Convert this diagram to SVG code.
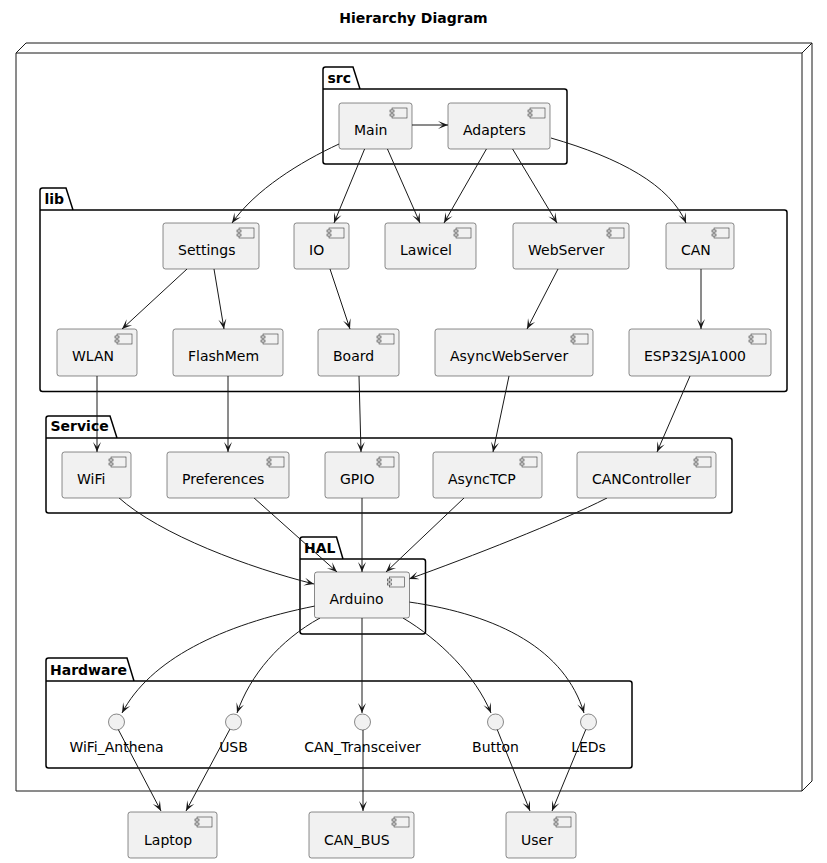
<svg xmlns="http://www.w3.org/2000/svg" xmlns:xlink="http://www.w3.org/1999/xlink" width="827" height="863" viewBox="0 0 827 863">
<style>
text{font-family:"DejaVu Sans","Liberation Sans",sans-serif;font-size:14px;fill:#000}
.title,.pk{font-weight:bold}
.box{fill:#F1F1F1;stroke:#181818;stroke-width:0.5}
.pkg{fill:none;stroke:#000;stroke-width:1.5}
.node{fill:none;stroke:#181818;stroke-width:1}
.e{fill:none;stroke:#181818;stroke-width:1;marker-end:url(#ah)}
.ic{fill:#F1F1F1;stroke:#181818;stroke-width:0.5}
</style>
<defs>
<marker id="ah" viewBox="-11 -5 12 10" refX="0" refY="0" markerWidth="12" markerHeight="10" orient="auto" markerUnits="userSpaceOnUse">
<path d="M0,0 L-10,-4 L-5,0 L-10,4 Z" fill="#181818"/>
</marker>
<g id="icon">
<rect class="ic" x="-20" y="5" width="15" height="10"/>
<rect class="ic" x="-22" y="7" width="4" height="2"/>
<rect class="ic" x="-22" y="11" width="4" height="2"/>
</g>
</defs>
<rect width="827" height="863" fill="#fff"/>
<text class="title" x="413.5" y="23" text-anchor="middle">Hierarchy Diagram</text>

<g id="node-outer">
<path class="node" d="M16,53 L26,43 L812,43 L812,781 L802,791 L16,791 Z M16,53 L802,53 L812,43 M802,53 L802,791"/>
</g>

<g id="pkg-src">
<path class="pkg" d="M323,89 L323,69.5 Q323,67 325.5,67 L353,67 L360,89 M323,89 L564.5,89 Q567,89 567,91.5 L567,161.5 Q567,164 564.5,164 L325.5,164 Q323,164 323,161.5 Z"/>
<text class="pk" x="327.5" y="82.5">src</text>
</g>
<g id="pkg-lib">
<path class="pkg" d="M40,210 L40,190.5 Q40,188 42.5,188 L66,188 L73,210 M40,210 L784.5,210 Q787,210 787,212.5 L787,389 Q787,391.5 784.5,391.5 L42.5,391.5 Q40,391.5 40,389 Z"/>
<text class="pk" x="44.5" y="204">lib</text>
</g>
<g id="pkg-service">
<path class="pkg" d="M46,438 L46,418.5 Q46,416 48.5,416 L110,416 L117,438 M46,438 L729.5,438 Q732,438 732,440.5 L732,510.5 Q732,513 729.5,513 L48.5,513 Q46,513 46,510.5 Z"/>
<text class="pk" x="50.5" y="431">Service</text>
</g>
<g id="pkg-hal">
<path class="pkg" d="M300,559 L300,539.5 Q300,537 302.5,537 L336.5,537 L343,559 M300,559 L423,559 Q425.5,559 425.5,561.5 L425.5,631.5 Q425.5,634 423,634 L302.5,634 Q300,634 300,631.5 Z"/>
<text class="pk" x="304" y="552.5">HAL</text>
</g>
<g id="pkg-hardware">
<path class="pkg" d="M46,681 L46,660.5 Q46,658 48.5,658 L127,658 L134,681 M46,681 L629.5,681 Q632,681 632,683.5 L632,765.5 Q632,768 629.5,768 L48.5,768 Q46,768 46,765.5 Z"/>
<text class="pk" x="50" y="674.5">Hardware</text>
</g>

<g id="connectors">
<path class="e" d="M412,125 L448,125"/>
<path class="e" d="M339,144 C300,162 255,190 232,223"/>
<path class="e" d="M365,148 L334,223"/>
<path class="e" d="M387,148 L420,223"/>
<path class="e" d="M487,148 L444,223"/>
<path class="e" d="M512,148 L557,223"/>
<path class="e" d="M551,138 C620,158 670,185 686,223"/>
<path class="e" d="M187,269 L122,329"/>
<path class="e" d="M214,269 L224,329"/>
<path class="e" d="M330,269 L350,329"/>
<path class="e" d="M558,269 L527,329"/>
<path class="e" d="M701,269 L701,329"/>
<path class="e" d="M97,376 L97,452"/>
<path class="e" d="M228,376 L228,452"/>
<path class="e" d="M359,376 L361,452"/>
<path class="e" d="M509,376 L493,452"/>
<path class="e" d="M690,376 L657,452"/>
<path class="e" d="M118,497 C160,535 250,568 314,584"/>
<path class="e" d="M253,497 L337,572"/>
<path class="e" d="M362,498 L362,572"/>
<path class="e" d="M464,498 L386,572"/>
<path class="e" d="M607,498 C560,522 470,557 409,579"/>
<path class="e" d="M315,606 C220,625 150,660 122,713"/>
<path class="e" d="M320,618 C280,640 250,675 237,713"/>
<path class="e" d="M362,618 L362,713"/>
<path class="e" d="M403,618 C440,640 475,675 491,713"/>
<path class="e" d="M409,602 C500,615 565,650 584,713"/>
<path class="e" d="M118,729 L161,811"/>
<path class="e" d="M230,729 L186,811"/>
<path class="e" d="M363,730 L363,811"/>
<path class="e" d="M497,729 L530,811"/>
<path class="e" d="M586,729 L552,811"/>
</g>

<g id="Main"><rect class="box" x="339" y="103" width="73" height="46" rx="2.5"/><use xlink:href="#icon" x="412" y="103"/><text x="354" y="135">Main</text></g>
<g id="Adapters"><rect class="box" x="448" y="103" width="102" height="46" rx="2.5"/><use xlink:href="#icon" x="550" y="103"/><text x="463" y="135">Adapters</text></g>

<g id="Settings"><rect class="box" x="163" y="223" width="96" height="46" rx="2.5"/><use xlink:href="#icon" x="259" y="223"/><text x="178" y="255">Settings</text></g>
<g id="IO"><rect class="box" x="294" y="223" width="55" height="46" rx="2.5"/><use xlink:href="#icon" x="349" y="223"/><text x="309" y="255">IO</text></g>
<g id="Lawicel"><rect class="box" x="385" y="223" width="91" height="46" rx="2.5"/><use xlink:href="#icon" x="476" y="223"/><text x="400" y="255">Lawicel</text></g>
<g id="WebServer"><rect class="box" x="513" y="223" width="116" height="46" rx="2.5"/><use xlink:href="#icon" x="629" y="223"/><text x="528" y="255">WebServer</text></g>
<g id="CAN"><rect class="box" x="666" y="223" width="68" height="46" rx="2.5"/><use xlink:href="#icon" x="734" y="223"/><text x="681" y="255">CAN</text></g>

<g id="WLAN"><rect class="box" x="57" y="329" width="80" height="47" rx="2.5"/><use xlink:href="#icon" x="137" y="329"/><text x="72" y="361">WLAN</text></g>
<g id="FlashMem"><rect class="box" x="173" y="329" width="110" height="47" rx="2.5"/><use xlink:href="#icon" x="283" y="329"/><text x="188" y="361">FlashMem</text></g>
<g id="Board"><rect class="box" x="318" y="329" width="81" height="47" rx="2.5"/><use xlink:href="#icon" x="399" y="329"/><text x="333" y="361">Board</text></g>
<g id="AsyncWebServer"><rect class="box" x="435" y="329" width="158" height="47" rx="2.5"/><use xlink:href="#icon" x="593" y="329"/><text x="450" y="361">AsyncWebServer</text></g>
<g id="ESP32SJA1000"><rect class="box" x="629" y="329" width="142" height="47" rx="2.5"/><use xlink:href="#icon" x="771" y="329"/><text x="644" y="361">ESP32SJA1000</text></g>

<g id="WiFi"><rect class="box" x="62" y="452" width="69" height="46" rx="2.5"/><use xlink:href="#icon" x="131" y="452"/><text x="77" y="484">WiFi</text></g>
<g id="Preferences"><rect class="box" x="167" y="452" width="122" height="46" rx="2.5"/><use xlink:href="#icon" x="289" y="452"/><text x="182" y="484">Preferences</text></g>
<g id="GPIO"><rect class="box" x="325" y="452" width="74" height="46" rx="2.5"/><use xlink:href="#icon" x="399" y="452"/><text x="340" y="484">GPIO</text></g>
<g id="AsyncTCP"><rect class="box" x="433" y="452" width="109" height="46" rx="2.5"/><use xlink:href="#icon" x="542" y="452"/><text x="448" y="484">AsyncTCP</text></g>
<g id="CANController"><rect class="box" x="577" y="452" width="139" height="46" rx="2.5"/><use xlink:href="#icon" x="716" y="452"/><text x="592" y="484">CANController</text></g>

<g id="Arduino"><rect class="box" x="314.5" y="572" width="95" height="46" rx="2.5"/><use xlink:href="#icon" x="409.5" y="572"/><text x="329.5" y="604">Arduino</text></g>

<g id="WiFi_Anthena"><circle class="box" cx="116.5" cy="722" r="8"/><text x="116.5" y="752" text-anchor="middle">WiFi_Anthena</text></g>
<g id="USB"><circle class="box" cx="233.5" cy="722" r="8"/><text x="233.5" y="752" text-anchor="middle">USB</text></g>
<g id="CAN_Transceiver"><circle class="box" cx="362.5" cy="722" r="8"/><text x="362.5" y="752" text-anchor="middle">CAN_Transceiver</text></g>
<g id="Button"><circle class="box" cx="495.5" cy="722" r="8"/><text x="495.5" y="752" text-anchor="middle">Button</text></g>
<g id="LEDs"><circle class="box" cx="588.5" cy="722" r="8"/><text x="588.5" y="752" text-anchor="middle">LEDs</text></g>

<g id="Laptop"><rect class="box" x="128" y="812" width="89" height="46" rx="2.5"/><use xlink:href="#icon" x="217" y="812"/><text x="144" y="845">Laptop</text></g>
<g id="CAN_BUS"><rect class="box" x="309" y="812" width="105" height="46" rx="2.5"/><use xlink:href="#icon" x="414" y="812"/><text x="324" y="845">CAN_BUS</text></g>
<g id="User"><rect class="box" x="506" y="812" width="70" height="46" rx="2.5"/><use xlink:href="#icon" x="576" y="812"/><text x="521" y="845">User</text></g>
</svg>
